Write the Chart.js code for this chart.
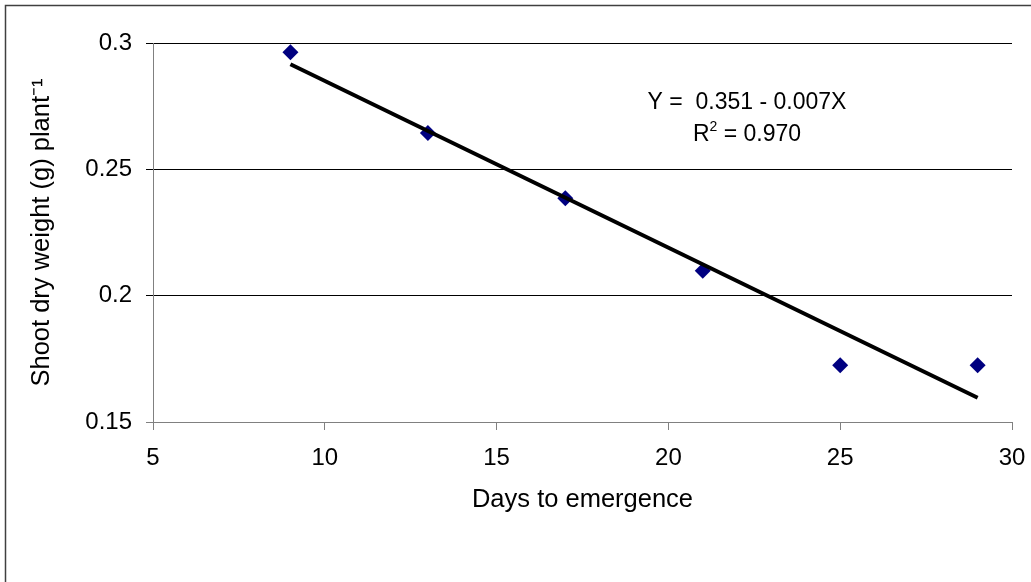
<!DOCTYPE html>
<html>
<head>
<meta charset="utf-8">
<script src="https://cdn.jsdelivr.net/npm/chart.js@4/dist/chart.umd.min.js"></script>
<style>
  html, body { margin: 0; padding: 0; background: #fff; }
  #wrap { width: 1031px; height: 582px; }
</style>
</head>
<body>
<div id="wrap"><canvas id="myChart" width="1031" height="582"></canvas></div>
<script>
// data
var days = [9, 13, 17, 21, 25, 29];
var shootWeight = [0.2963, 0.2644, 0.2386, 0.2099, 0.1725, 0.1725];

// fitted line end points
var trendDays = [9, 29];
var trendWeight = [0.2916, 0.1596];

// axis ticks
var xTicks = [5, 10, 15, 20, 25, 30];
var yTicks = [0.15, 0.2, 0.25, 0.3];
var yTickLabels = ["0.15", "0.2", "0.25", "0.3"];

var equationText = "Y =  0.351 - 0.007X";
var r2Text = ["R", "2", " = 0.970"];

var fontFamily = "'Liberation Sans', Arial, sans-serif";
Chart.defaults.font.family = fontFamily;
Chart.defaults.color = "#000";

function toPoints(xs, ys) {
  var pts = [];
  for (var i = 0; i < xs.length; i++) {
    pts.push({ x: xs[i], y: ys[i] });
  }
  return pts;
}

// frame round the chart and the regression text
var extras = {
  id: "extras",
  beforeDraw: function(chart) {
    var ctx = chart.ctx;
    ctx.save();
    ctx.fillStyle = "#fff";
    ctx.fillRect(0, 0, chart.width, chart.height);
    ctx.strokeStyle = "#404040";
    ctx.lineWidth = 1.5;
    ctx.strokeRect(5.5, 5.5, chart.width + 10, chart.height + 10);
    ctx.restore();
  },
  afterDraw: function(chart) {
    var ctx = chart.ctx;
    var big = "23px " + fontFamily;
    var small = "14px " + fontFamily;
    var cx = 747;
    ctx.save();
    ctx.fillStyle = "#000";
    ctx.textBaseline = "middle";
    ctx.font = big;
    ctx.textAlign = "center";
    ctx.fillText(equationText, cx, 103);

    // R squared line with a real superscript
    ctx.textAlign = "left";
    var w0 = ctx.measureText(r2Text[0]).width;
    var w2 = ctx.measureText(r2Text[2]).width;
    ctx.font = small;
    var w1 = ctx.measureText(r2Text[1]).width;
    var x = cx - (w0 + w1 + w2) / 2;
    ctx.font = big;
    ctx.fillText(r2Text[0], x, 135);
    ctx.font = small;
    ctx.fillText(r2Text[1], x + w0, 127);
    ctx.font = big;
    ctx.fillText(r2Text[2], x + w0 + w1, 135);
    ctx.restore();
  }
};

var ctx = document.getElementById("myChart");
var myChart = new Chart(ctx, {
  type: "scatter",
  data: {
    datasets: [{
      label: "Fit",
      data: toPoints(trendDays, trendWeight),
      showLine: true,
      borderColor: "#000",
      borderWidth: 4,
      pointRadius: 0,
      fill: false
    }, {
      label: "Shoot dry weight",
      data: toPoints(days, shootWeight),
      pointStyle: "rectRot",
      pointRadius: 8,
      pointBackgroundColor: "#000080",
      pointBorderColor: "#000080",
      pointBorderWidth: 0
    }]
  },
  options: {
    responsive: false,
    animation: false,
    layout: { padding: { top: 43, right: 19, left: 0, bottom: 0 } },
    plugins: {
      legend: { display: false },
      tooltip: { enabled: false }
    },
    scales: {
      x: {
        type: "linear",
        min: 5,
        max: 30,
        afterBuildTicks: function(scale) {
          scale.ticks = xTicks.map(function(v) { return { value: v }; });
        },
        afterFit: function(scale) {
          scale.height = 160;
          scale.paddingLeft = 0;
          scale.paddingRight = 0;
        },
        ticks: {
          padding: 14,
          font: { size: 24 },
          color: "#000"
        },
        grid: {
          drawOnChartArea: false,
          drawTicks: true,
          tickLength: 8,
          color: "#808080"
        },
        border: { color: "#808080", width: 1 },
        title: {
          display: true,
          text: "Days to emergence",
          font: { size: 25.5 },
          color: "#000",
          padding: { top: 0, bottom: 67 }
        }
      },
      y: {
        type: "linear",
        min: 0.15,
        max: 0.3,
        afterBuildTicks: function(scale) {
          scale.ticks = yTicks.map(function(v) { return { value: v }; });
        },
        afterFit: function(scale) {
          scale.width = 153;
          scale.paddingTop = 0;
          scale.paddingBottom = 0;
        },
        ticks: {
          padding: 14,
          font: { size: 24 },
          color: "#000",
          callback: function(value, index) { return yTickLabels[index]; }
        },
        grid: {
          drawTicks: true,
          tickLength: 7,
          lineWidth: 1,
          color: function(c) {
            return (c.tick && Math.abs(c.tick.value - 0.15) < 1e-6) ? "#808080" : "#000";
          }
        },
        border: { color: "#808080", width: 1 },
        title: {
          display: true,
          text: "Shoot dry weight (g) plant\u207B\u00B9",
          font: { size: 25.5 },
          color: "#000",
          padding: { top: 27, bottom: 0 }
        }
      }
    }
  },
  plugins: [extras]
});
</script>
</body>
</html>
